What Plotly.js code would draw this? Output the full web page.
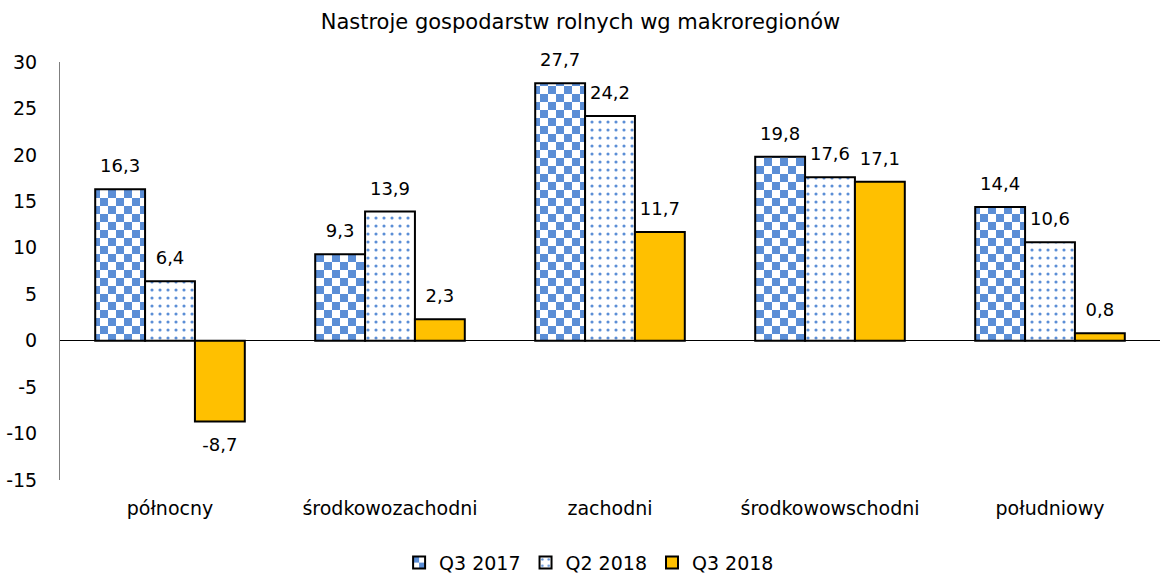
<!DOCTYPE html>
<html><head><meta charset="utf-8">
<script src="https://cdn.plot.ly/plotly-3.0.1.min.js"></script>
<style>html,body{margin:0;padding:0;background:#fff}#chart{width:1161px;height:576px}</style>
</head><body><div id="chart"></div>
<script>
const categories = ["północny", "środkowozachodni", "zachodni", "środkowowschodni", "południowy"];
const seriesNames = ["Q3 2017", "Q2 2018", "Q3 2018"];
const q3_2017 = [16.3, 9.3, 27.7, 19.8, 14.4];
const q2_2018 = [6.4, 13.9, 24.2, 17.6, 10.6];
const q3_2018 = [-8.7, 2.3, 11.7, 17.1, 0.8];
const yTicks = [-15, -10, -5, 0, 5, 10, 15, 20, 25, 30];

const FONT = "DejaVu Sans";
const BLUE = "#5b8ed6";
const fmt = v => v.toFixed(1).replace('.', ',');
const allSeries = [q3_2017, q2_2018, q3_2018];

function barTrace(name, vals, marker) {
  return {
    type: 'bar', name: name, x: categories, y: vals,
    text: vals.map(fmt), textposition: 'outside', constraintext: 'none',
    cliponaxis: false,
    textfont: {family: FONT, size: 18, color: '#000'},
    marker: marker, hoverinfo: 'none'
  };
}
const traces = [
  barTrace(seriesNames[0], q3_2017, {color: BLUE, line: {color: '#000', width: 2}}),
  barTrace(seriesNames[1], q2_2018, {color: '#fff', line: {color: '#000', width: 2},
    pattern: {shape: '.', size: 8, solidity: 0.12, fgcolor: BLUE, bgcolor: '#fff', fillmode: 'replace'}}),
  barTrace(seriesNames[2], q3_2018, {color: '#ffc000', line: {color: '#000', width: 2}})
];
const layout = {
  width: 1161, height: 576,
  margin: {l: 60, r: 1, t: 62, b: 96, autoexpand: false},
  paper_bgcolor: '#fff', plot_bgcolor: '#fff',
  font: {family: FONT, size: 18, color: '#000'},
  title: {text: 'Nastroje gospodarstw rolnych wg makroregionów', x: 0.5, xref: 'container', xanchor: 'center', y: 0.962, yanchor: 'middle', font: {family: FONT, size: 21, color: '#000'}},
  barmode: 'group', bargap: 0.32, bargroupgap: 0,
  showlegend: true,
  legend: {orientation: 'h', x: 0.481, xanchor: 'center', xref: 'paper', y: -0.198, yanchor: 'middle', font: {family: FONT, size: 19}, itemwidth: 30, traceorder: 'normal'},
  xaxis: {showline: false, showgrid: false, zeroline: false, ticks: 'outside', ticklen: 11, tickcolor: 'rgba(0,0,0,0)', tickfont: {family: FONT, size: 19}, automargin: false},
  yaxis: {range: [-15, 30], tickvals: yTicks, ticktext: yTicks.map(String), showgrid: false,
    zeroline: true, zerolinecolor: '#000', zerolinewidth: 1, automargin: false,
    showline: true, linecolor: '#7f7f7f', linewidth: 1, ticks: '', ticklabelstandoff: 18,
    tickfont: {family: FONT, size: 19}},
};
Plotly.newPlot('chart', traces, layout, {staticPlot: true}).then(gd => {
  const svg = gd.querySelector('svg.main-svg');
  const ns = 'http://www.w3.org/2000/svg';
  let defs = svg.querySelector('defs');
  const pat = document.createElementNS(ns, 'pattern');
  pat.setAttribute('id', 'checker');
  pat.setAttribute('patternUnits', 'userSpaceOnUse');
  pat.setAttribute('width', '16'); pat.setAttribute('height', '16');
  pat.innerHTML = '<rect width="16" height="16" fill="#fff"/><rect x="0" y="0" width="8" height="8" fill="' + BLUE + '"/><rect x="8" y="8" width="8" height="8" fill="' + BLUE + '"/>';
  defs.appendChild(pat);
  const barTraces = gd.querySelectorAll('.barlayer .trace');
  barTraces[0].querySelectorAll('.point path').forEach(p => { p.style.fill = 'url(#checker)'; });
  // lift value labels a little further from the bar ends
  barTraces.forEach((tr, ti) => {
    tr.querySelectorAll('.point').forEach((pt, pi) => {
      const t = pt.querySelector('text');
      if (!t) return;
      const v = allSeries[ti][pi];
      const dy = v >= 0 ? -10 : 10;
      const g = document.createElementNS(ns, 'g');
      g.setAttribute('transform', 'translate(0,' + dy + ')');
      t.parentNode.insertBefore(g, t);
      g.appendChild(t);
    });
  });
  const leg = gd.querySelectorAll('.legend .traces');
  if (leg[0]) leg[0].querySelectorAll('.legendpoints path').forEach(p => { p.style.fill = 'url(#checker)'; });
});
</script></body></html>
